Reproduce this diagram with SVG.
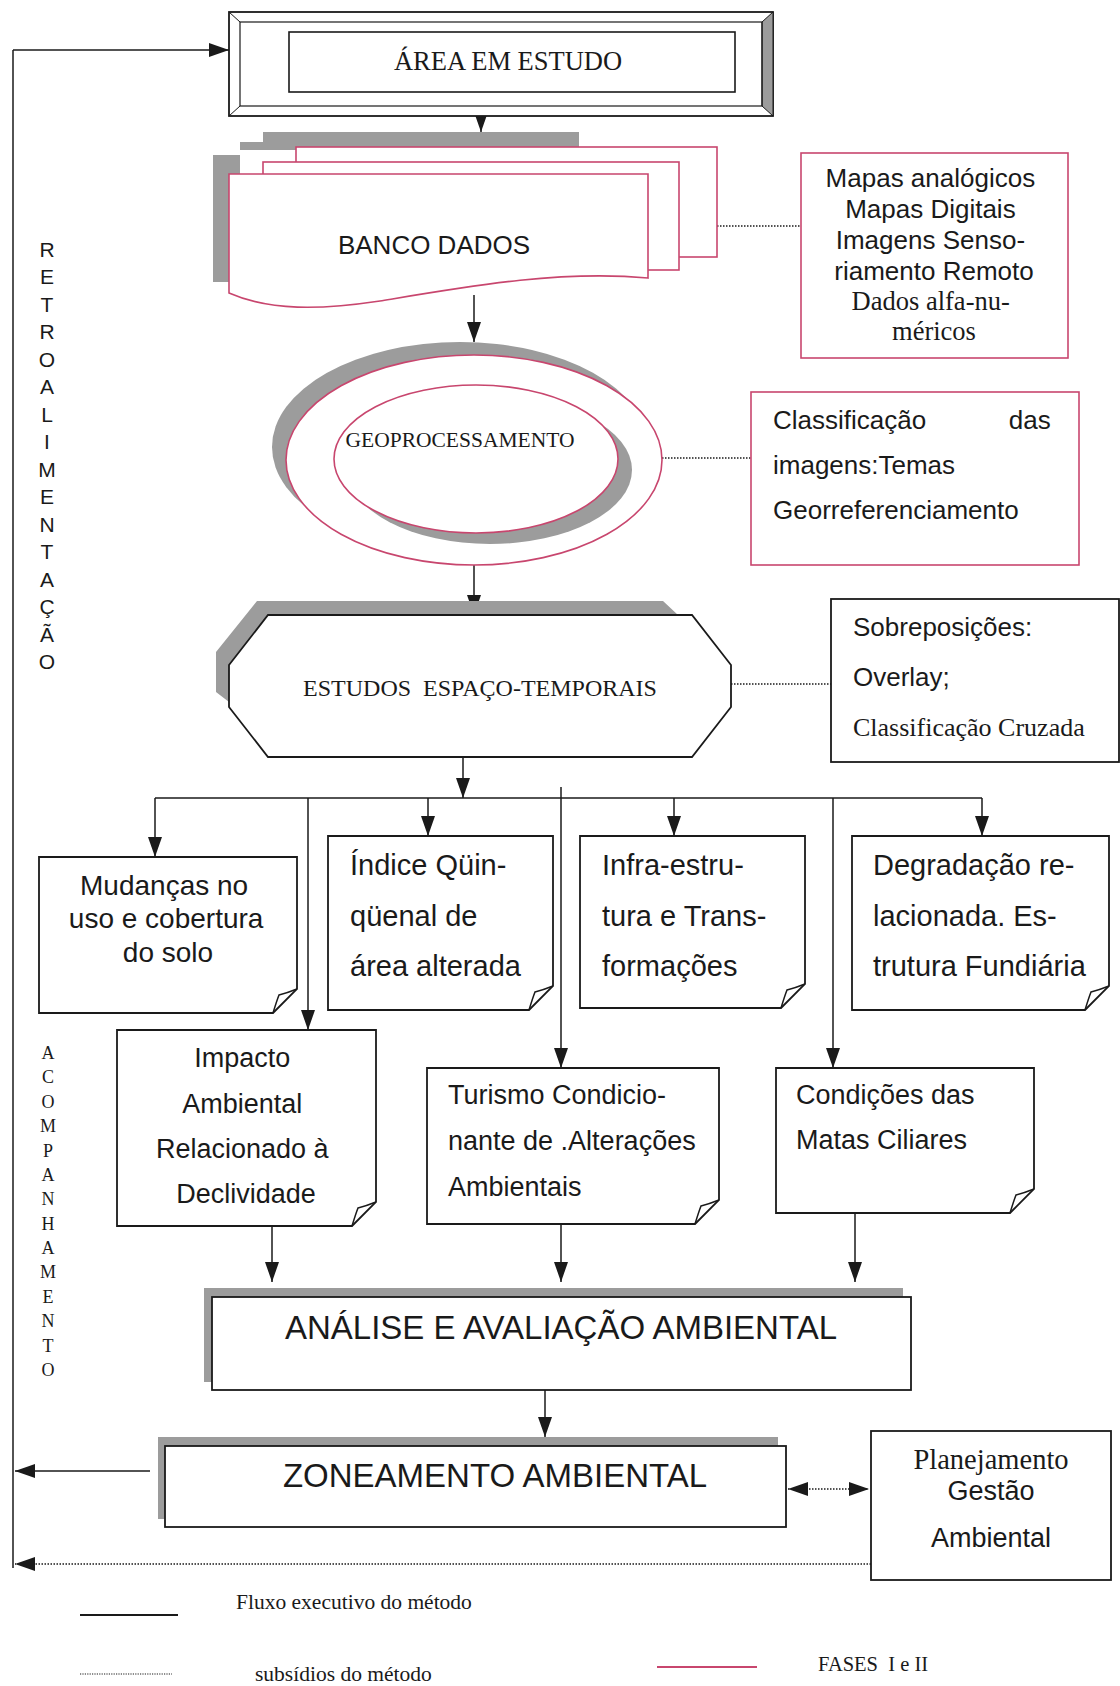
<svg xmlns="http://www.w3.org/2000/svg" width="1120" height="1686" viewBox="0 0 1120 1686">
<defs>
<style>
.bg{fill:#ffffff}
.pk{fill:#ffffff;stroke:#c8466e;stroke-width:1.6}
.bk{fill:#ffffff;stroke:#1a1a1a;stroke-width:1.8}
.gr{fill:#9c9c9c;stroke:none}
.ln{fill:none;stroke:#1a1a1a;stroke-width:1.5}
.dt{fill:none;stroke:#1a1a1a;stroke-width:1.5;stroke-dasharray:1.5 1.5}
.sans{font-family:"Liberation Sans",Arial,sans-serif;fill:#1a1a1a}
.serif{font-family:"Liberation Serif","Times New Roman",serif;fill:#1a1a1a}
.pre{white-space:pre}
</style>
<marker id="ah" markerUnits="userSpaceOnUse" markerWidth="20" markerHeight="14" refX="20" refY="7" orient="auto-start-reverse">
<path d="M0,0 L20,7 L0,14 Z" fill="#1a1a1a"/>
</marker>
</defs>
<rect class="bg" x="0" y="0" width="1120" height="1686"/>

<g id="connectors">
<line class="ln" x1="13" y1="50" x2="13" y2="1568"/>
<line class="ln" x1="13" y1="50" x2="229" y2="50" marker-end="url(#ah)"/>
<line class="ln" x1="481" y1="116" x2="481" y2="132" marker-end="url(#ah)"/>
<line class="ln" x1="474" y1="295" x2="474" y2="342" marker-end="url(#ah)"/>
<line class="dt" x1="717" y1="226" x2="801" y2="226"/>
<line class="dt" x1="662" y1="458" x2="751" y2="458"/>
<line class="ln" x1="474" y1="565" x2="474" y2="615" marker-end="url(#ah)"/>
<line class="dt" x1="731" y1="684" x2="831" y2="684"/>
<line class="ln" x1="463" y1="757" x2="463" y2="798" marker-end="url(#ah)"/>
<line class="ln" x1="155" y1="798" x2="982" y2="798"/>
<line class="ln" x1="155" y1="798" x2="155" y2="857" marker-end="url(#ah)"/>
<line class="ln" x1="428" y1="798" x2="428" y2="836" marker-end="url(#ah)"/>
<line class="ln" x1="674" y1="798" x2="674" y2="836" marker-end="url(#ah)"/>
<line class="ln" x1="982" y1="798" x2="982" y2="836" marker-end="url(#ah)"/>
<line class="ln" x1="308" y1="798" x2="308" y2="1030" marker-end="url(#ah)"/>
<line class="ln" x1="561" y1="787" x2="561" y2="1068" marker-end="url(#ah)"/>
<line class="ln" x1="833" y1="798" x2="833" y2="1068" marker-end="url(#ah)"/>
<line class="ln" x1="272" y1="1226" x2="272" y2="1282" marker-end="url(#ah)"/>
<line class="ln" x1="561" y1="1224" x2="561" y2="1282" marker-end="url(#ah)"/>
<line class="ln" x1="855" y1="1213" x2="855" y2="1282" marker-end="url(#ah)"/>
<line class="ln" x1="545" y1="1390" x2="545" y2="1437" marker-end="url(#ah)"/>
<line class="ln" x1="150" y1="1471" x2="15" y2="1471" marker-end="url(#ah)"/>
<line class="dt" x1="788" y1="1489" x2="869" y2="1489" marker-start="url(#ah)" marker-end="url(#ah)"/>
<line class="dt" x1="871" y1="1564" x2="15" y2="1564" marker-end="url(#ah)"/>
</g>

<g id="area-estudo">
<rect x="229" y="12" width="544" height="104" fill="#ffffff" stroke="#1a1a1a" stroke-width="1.8"/>
<polygon points="762,22 773,12 773,116 762,106" fill="#9c9c9c" stroke="#1a1a1a" stroke-width="1"/>
<rect x="240" y="22" width="522" height="84" fill="none" stroke="#1a1a1a" stroke-width="1.2"/>
<line x1="229" y1="12" x2="240" y2="22" stroke="#1a1a1a" stroke-width="1"/>
<line x1="229" y1="116" x2="240" y2="106" stroke="#1a1a1a" stroke-width="1"/>
<rect x="289" y="32" width="446" height="60" fill="#ffffff" stroke="#1a1a1a" stroke-width="1.6"/>
<text class="serif" x="508" y="70" font-size="26.5" text-anchor="middle">ÁREA EM ESTUDO</text>
</g>

<g id="banco-dados">
<path class="gr" d="M213,282 V155 H240 V142 H263 V132 H579 V150 H240 V282 Z"/>
<rect class="pk" x="296" y="147" width="421" height="110"/>
<rect class="pk" x="263" y="162" width="416" height="108"/>
<path class="pk" d="M229,174 H648 V278 C560,270 470,286 380,301 C320,310 270,311 229,293 Z"/>
<text class="sans" x="434" y="254" font-size="26" text-anchor="middle">BANCO DADOS</text>
</g>

<g id="fontes-dados">
<rect class="pk" x="801" y="153" width="267" height="205"/>
<text class="sans" font-size="26" text-anchor="middle">
<tspan x="934" y="187">Mapas analógicos</tspan>
<tspan x="934" y="218">Mapas Digitais</tspan>
<tspan x="934" y="249">Imagens Senso-</tspan>
<tspan x="934" y="280">riamento Remoto</tspan>
</text>
<text class="serif" font-size="26.5" text-anchor="middle">
<tspan x="934" y="310">Dados alfa-nu-</tspan>
<tspan x="934" y="340">méricos</tspan>
</text>
</g>

<g id="geoprocessamento">
<ellipse cx="460" cy="447" rx="188" ry="105" fill="#9c9c9c"/>
<ellipse class="pk" cx="474" cy="460" rx="188" ry="105"/>
<ellipse cx="490" cy="470" rx="142" ry="74" fill="#9c9c9c"/>
<ellipse class="pk" cx="476" cy="459" rx="142" ry="74"/>
<text class="serif" x="460" y="447" font-size="21.5" text-anchor="middle">GEOPROCESSAMENTO</text>
</g>

<g id="classificacao">
<rect class="pk" x="751" y="392" width="328" height="173"/>
<text class="sans" font-size="26">
<tspan x="773" y="429">Classificação</tspan>
<tspan x="1058" y="429" text-anchor="end">das</tspan>
<tspan x="773" y="474">imagens:Temas</tspan>
<tspan x="773" y="519">Georreferenciamento</tspan>
</text>
</g>

<g id="estudos">
<polygon class="gr" points="216,692 216,652 257,601 663,601 678,615 268,615 229,665 229,702"/>
<polygon class="bk" points="268,615 692,615 731,665 731,707 692,757 268,757 229,707 229,665"/>
<text class="serif pre" x="480" y="696" font-size="24" text-anchor="middle">ESTUDOS  ESPAÇO-TEMPORAIS</text>
</g>

<g id="sobreposicoes">
<rect class="bk" x="831" y="599" width="288" height="163"/>
<text class="sans" font-size="26"><tspan x="853" y="636">Sobreposições:</tspan><tspan x="853" y="686">Overlay;</tspan></text>
<text class="serif" x="853" y="736" font-size="26">Classificação Cruzada</text>
</g>

<g id="mudancas">
<path class="bk" d="M39,857 H297 V989 L273,1013 H39 Z"/>
<path class="ln" d="M273,1013 Q277,1000 279,995 Q287,993 297,989"/>
<text class="sans" font-size="28" text-anchor="middle">
<tspan x="168" y="895">Mudanças no</tspan>
<tspan x="170" y="928">uso e cobertura</tspan>
<tspan x="168" y="962">do solo</tspan>
</text>
</g>

<g id="indice">
<path class="bk" d="M328,836 H553 V986 L529,1010 H328 Z"/>
<path class="ln" d="M529,1010 Q533,997 535,992 Q543,990 553,986"/>
<text class="sans" font-size="29">
<tspan x="350" y="875">Índice Qüin-</tspan>
<tspan x="350" y="926">qüenal de</tspan>
<tspan x="350" y="976">área alterada</tspan>
</text>
</g>

<g id="infra">
<path class="bk" d="M580,836 H805 V984 L781,1008 H580 Z"/>
<path class="ln" d="M781,1008 Q785,995 787,990 Q795,988 805,984"/>
<text class="sans" font-size="29">
<tspan x="602" y="875">Infra-estru-</tspan>
<tspan x="602" y="926">tura e Trans-</tspan>
<tspan x="602" y="976">formações</tspan>
</text>
</g>

<g id="degradacao">
<path class="bk" d="M852,836 H1109 V986 L1085,1010 H852 Z"/>
<path class="ln" d="M1085,1010 Q1089,997 1091,992 Q1099,990 1109,986"/>
<text class="sans" font-size="29">
<tspan x="873" y="875">Degradação re-</tspan>
<tspan x="873" y="926">lacionada. Es-</tspan>
<tspan x="873" y="976">trutura Fundiária</tspan>
</text>
</g>

<g id="impacto">
<path class="bk" d="M117,1030 H376 V1202 L352,1226 H117 Z"/>
<path class="ln" d="M352,1226 Q356,1213 358,1208 Q366,1206 376,1202"/>
<text class="sans" font-size="27" text-anchor="middle">
<tspan x="246" y="1067">Impacto</tspan>
<tspan x="246" y="1113">Ambiental</tspan>
<tspan x="246" y="1158">Relacionado à</tspan>
<tspan x="246" y="1203">Declividade</tspan>
</text>
</g>

<g id="turismo">
<path class="bk" d="M427,1068 H719 V1200 L695,1224 H427 Z"/>
<path class="ln" d="M695,1224 Q699,1211 701,1206 Q709,1204 719,1200"/>
<text class="sans" font-size="27">
<tspan x="448" y="1104">Turismo Condicio-</tspan>
<tspan x="448" y="1150">nante de .Alterações</tspan>
<tspan x="448" y="1196">Ambientais</tspan>
</text>
</g>

<g id="matas">
<path class="bk" d="M776,1068 H1034 V1189 L1010,1213 H776 Z"/>
<path class="ln" d="M1010,1213 Q1014,1200 1016,1195 Q1024,1193 1034,1189"/>
<text class="sans" font-size="27">
<tspan x="796" y="1104">Condições das</tspan>
<tspan x="796" y="1149">Matas Ciliares</tspan>
</text>
</g>

<g id="analise">
<rect class="gr" x="204" y="1288" width="699" height="94"/>
<rect class="bk" x="212" y="1297" width="699" height="93"/>
<text class="sans" x="561" y="1339" font-size="33" text-anchor="middle">ANÁLISE E AVALIAÇÃO AMBIENTAL</text>
</g>

<g id="zoneamento">
<rect class="gr" x="158" y="1437" width="620" height="82"/>
<rect class="bk" x="165" y="1446" width="621" height="81"/>
<text class="sans" x="495" y="1487" font-size="33" text-anchor="middle">ZONEAMENTO AMBIENTAL</text>
</g>

<g id="planejamento">
<rect class="bk" x="871" y="1431" width="240" height="149"/>
<text class="serif" x="991" y="1469" font-size="28.5" text-anchor="middle">Planejamento</text>
<text class="sans" font-size="27" text-anchor="middle"><tspan x="991" y="1500">Gestão</tspan><tspan x="991" y="1547">Ambiental</tspan></text>
</g>

<g id="retroalimentacao">
<text class="sans" font-size="21" text-anchor="middle">
<tspan x="47" y="257">R</tspan><tspan x="47" y="284">E</tspan><tspan x="47" y="312">T</tspan><tspan x="47" y="339">R</tspan><tspan x="47" y="367">O</tspan><tspan x="47" y="394">A</tspan><tspan x="47" y="422">L</tspan><tspan x="47" y="449">I</tspan><tspan x="47" y="477">M</tspan><tspan x="47" y="504">E</tspan><tspan x="47" y="532">N</tspan><tspan x="47" y="559">T</tspan><tspan x="47" y="587">A</tspan><tspan x="47" y="614">Ç</tspan><tspan x="47" y="642">Ã</tspan><tspan x="47" y="669">O</tspan>
</text>
</g>

<g id="acompanhamento">
<text class="serif" font-size="18" text-anchor="middle">
<tspan x="48" y="1059">A</tspan><tspan x="48" y="1083">C</tspan><tspan x="48" y="1108">O</tspan><tspan x="48" y="1132">M</tspan><tspan x="48" y="1157">P</tspan><tspan x="48" y="1181">A</tspan><tspan x="48" y="1205">N</tspan><tspan x="48" y="1230">H</tspan><tspan x="48" y="1254">A</tspan><tspan x="48" y="1278">M</tspan><tspan x="48" y="1303">E</tspan><tspan x="48" y="1327">N</tspan><tspan x="48" y="1352">T</tspan><tspan x="48" y="1376">O</tspan>
</text>
</g>

<g id="legenda">
<line x1="80" y1="1615" x2="178" y2="1615" stroke="#1a1a1a" stroke-width="1.8"/>
<text class="serif" x="236" y="1609" font-size="21.5">Fluxo executivo do método</text>
<line x1="80" y1="1674" x2="172" y2="1674" stroke="#1a1a1a" stroke-width="1.2" stroke-dasharray="1.2 1.2"/>
<text class="serif" x="255" y="1681" font-size="21.5">subsídios do método</text>
<line x1="657" y1="1667" x2="757" y2="1667" stroke="#c8466e" stroke-width="1.8"/>
<text class="serif pre" x="818" y="1671" font-size="20.5">FASES  I e II</text>
</g>
</svg>
